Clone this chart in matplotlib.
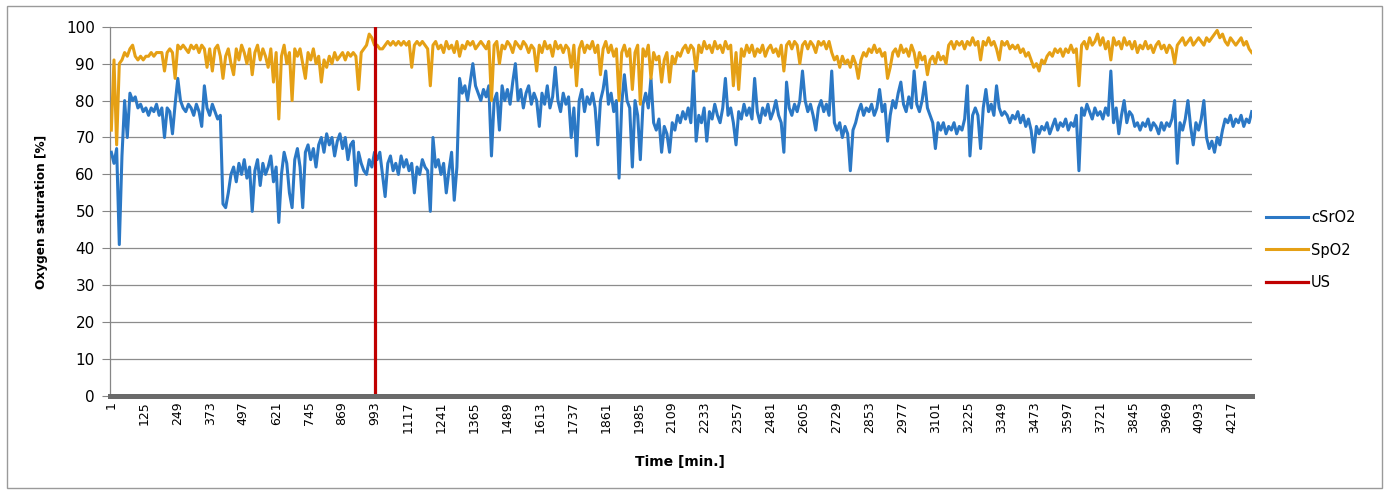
import matplotlib
matplotlib.use("Agg")
import matplotlib.pyplot as plt
from matplotlib.patches import Rectangle
import numpy as np

# --- Data (one value every 10 minutes) ---
minutes = np.arange(1, 4292, 10)

csro2 = [
    66, 63, 67, 41, 65, 80, 70, 82, 80, 81, 78, 79, 77, 78, 76, 78, 77, 79, 76, 78,
    70, 78, 77, 71, 79, 86, 80, 78, 77, 79, 78, 76, 79, 77, 73, 84, 78, 76, 79, 77,
    75, 76, 52, 51, 55, 60, 62, 58, 63, 60, 64, 59, 62, 50, 61, 64, 57, 63, 60, 62,
    65, 58, 62, 47, 60, 66, 63, 55, 51, 64, 67, 62, 51, 66, 68, 64, 67, 62, 68, 70,
    66, 71, 68, 70, 65, 69, 71, 67, 70, 64, 68, 69, 57, 66, 63, 61, 60, 64, 62, 66,
    64, 66, 60, 54, 63, 65, 61, 63, 60, 65, 62, 64, 61, 63, 55, 62, 60, 64, 62, 61,
    50, 70, 62, 64, 60, 63, 55, 61, 66, 53, 62, 86, 82, 84, 80, 85, 90, 84, 82, 80,
    83, 81, 84, 65, 80, 82, 72, 84, 80, 83, 79, 85, 90, 80, 83, 78, 82, 84, 79, 82,
    80, 73, 82, 79, 84, 78, 81, 89, 80, 77, 82, 79, 81, 70, 78, 65, 80, 83, 77, 81,
    79, 82, 78, 68, 80, 83, 88, 79, 82, 77, 80, 59, 79, 87, 80, 78, 62, 80, 76, 64,
    79, 82, 78, 86, 74, 72, 75, 66, 73, 71, 66, 74, 72, 76, 74, 77, 75, 78, 74, 88,
    69, 76, 74, 78, 69, 77, 75, 79, 76, 74, 78, 86, 76, 78, 74, 68, 77, 75, 79, 76,
    78, 75, 86, 77, 74, 78, 76, 79, 75, 77, 80, 76, 74, 66, 85, 78, 76, 79, 77, 80,
    88, 80, 77, 79, 76, 72, 78, 80, 77, 79, 76, 88, 74, 72, 74, 70, 73, 71, 61, 72,
    74, 77, 79, 76, 78, 77, 79, 76, 78, 83, 77, 79, 69, 76, 80, 78, 82, 85, 79, 77,
    81, 78, 88, 79, 77, 80, 85, 78, 76, 74, 67, 74, 72, 74, 71, 73, 72, 74, 71, 73,
    72, 75, 84, 65, 76, 78, 76, 67, 78, 83, 77, 79, 76, 84, 78, 76, 77, 76, 74, 76,
    75, 77, 74, 76, 73, 75, 72, 66, 73, 71, 73, 72, 74, 71, 73, 75, 72, 74, 73, 75,
    72, 74, 73, 76, 61, 78, 76, 79, 77, 75, 78, 76, 77, 75, 78, 76, 88, 74, 78, 71,
    76, 80, 74, 77, 76, 73, 74, 72, 74, 73, 75, 72, 74, 73, 71, 74, 72, 74, 73, 75,
    80, 63, 74, 72, 75, 80, 73, 68, 74, 72, 75, 80, 70, 67, 69, 66, 70, 68, 72, 75,
    74, 76, 73, 75, 74, 76, 73, 75, 74, 77,
]

spo2 = [
    72, 91, 68, 90, 91, 93, 92, 94, 95, 92, 91, 92, 91, 92, 92, 93, 92, 93, 93, 93,
    88, 93, 94, 93, 86, 95, 94, 95, 94, 93, 95, 94, 95, 93, 95, 94, 89, 94, 88, 94,
    95, 92, 86, 92, 94, 90, 87, 94, 91, 95, 93, 90, 94, 87, 93, 95, 91, 94, 92, 89,
    94, 85, 93, 75, 92, 95, 90, 93, 80, 94, 92, 94, 90, 86, 93, 91, 94, 90, 92, 85,
    91, 89, 92, 90, 93, 91, 92, 93, 91, 93, 92, 93, 92, 83, 93, 94, 95, 98, 97, 95,
    95, 94, 94, 95, 96, 95, 96, 95, 96, 95, 96, 95, 96, 89, 95, 96, 95, 96, 95, 94,
    84, 95, 96, 94, 95, 93, 96, 94, 95, 93, 96, 92, 95, 94, 96, 95, 96, 94, 95, 96,
    95, 94, 96, 80, 95, 96, 90, 95, 94, 96, 95, 93, 96, 95, 94, 96, 95, 93, 95, 94,
    88, 95, 93, 96, 94, 95, 92, 96, 94, 95, 93, 95, 94, 89, 95, 84, 94, 96, 93, 95,
    94, 96, 93, 95, 87, 94, 96, 93, 95, 92, 94, 80, 93, 95, 92, 94, 83, 93, 95, 79,
    94, 92, 95, 86, 93, 91, 92, 85, 91, 93, 85, 92, 90, 93, 92, 94, 95, 93, 95, 94,
    88, 95, 93, 96, 94, 95, 93, 96, 94, 95, 93, 96, 94, 95, 84, 93, 83, 94, 92, 95,
    93, 95, 92, 94, 93, 95, 92, 94, 95, 93, 94, 92, 95, 88, 95, 96, 94, 96, 95, 90,
    95, 96, 94, 96, 95, 93, 96, 95, 96, 94, 96, 93, 91, 92, 89, 92, 90, 91, 89, 92,
    90, 86, 91, 93, 92, 94, 93, 95, 93, 94, 92, 93, 86, 89, 93, 94, 92, 95, 93, 94,
    92, 95, 93, 89, 93, 91, 92, 87, 91, 92, 90, 93, 91, 92, 90, 95, 96, 94, 96, 95,
    96, 94, 96, 95, 97, 95, 96, 91, 96, 95, 97, 95, 96, 94, 91, 96, 95, 96, 94, 95,
    94, 95, 93, 94, 92, 93, 91, 89, 90, 88, 91, 90, 92, 93, 92, 94, 93, 94, 92, 94,
    93, 95, 93, 94, 84, 95, 96, 94, 97, 95, 96, 98, 95, 97, 94, 96, 91, 97, 95, 96,
    94, 97, 95, 96, 94, 96, 93, 95, 94, 96, 94, 95, 93, 95, 96, 94, 95, 93, 95, 94,
    90, 95, 96, 97, 95, 96, 97, 95, 96, 97, 96, 95, 97, 96, 97, 98, 99, 97, 98, 96,
    95, 97, 96, 95, 96, 97, 95, 96, 94, 93,
]

us_minute = 993  # ultrasound event
tick_minutes = list(range(1, 4218, 124))

BLUE = "#2B78C5"
GOLD = "#E5A015"
RED = "#C00000"

# --- Plot ---
W, H = 1385, 491
fig = plt.figure(figsize=(W / 100, H / 100), dpi=100)
ax = fig.add_axes([110 / W, (H - 396) / H, (1252 - 110) / W, (396 - 26.7) / H])

ax.plot(minutes, csro2, color=BLUE, lw=2.2, label="cSrO2", zorder=3)
ax.plot(minutes, spo2, color=GOLD, lw=2.2, label="SpO2", zorder=4)
ax.axvline(us_minute, color=RED, lw=2.3, label="US", zorder=5)

ax.set_xlim(-4, 4292)
ax.set_ylim(0, 100)
ax.set_yticks(range(0, 101, 10))
ax.set_xticks(tick_minutes)
ax.set_xticklabels([str(t) for t in tick_minutes], rotation=90, fontsize=9)
ax.tick_params(axis="y", labelsize=11, length=6, pad=5, color="#868686",
               direction="out")
ax.tick_params(axis="x", length=0, pad=4)

ax.yaxis.grid(True, color="#8c8c8c", lw=0.9)
ax.set_axisbelow(True)
for side in ("top", "right"):
    ax.spines[side].set_visible(False)
ax.spines["left"].set_color("#868686")
ax.spines["left"].set_linewidth(0.9)
ax.spines["bottom"].set_color("#6a6a6a")
ax.spines["bottom"].set_linewidth(3.6)
ax.spines["bottom"].set_zorder(6)

fig.text(42 / W, 1 - 212 / H, "Oxygen saturation [%]", rotation=90,
         ha="center", va="center", fontsize=8.7, fontweight="bold")
fig.text(680 / W, 1 - 462 / H, "Time [min.]", ha="center", va="center",
         fontsize=10, fontweight="bold")

fig.legend(loc="center left", bbox_to_anchor=(1266 / W, 1 - 250 / H),
           frameon=False, fontsize=10.5, handlelength=2.9, handletextpad=0.2,
           labelspacing=1.2, borderpad=0, borderaxespad=0)

fig.patches.append(Rectangle((7 / W, 3 / H), (1382 - 7) / W, (488 - 6) / H,
                             transform=fig.transFigure, fill=False,
                             edgecolor="#9a9a9a", lw=1))

fig.savefig("out.png", dpi=100)
plt.close(fig)
